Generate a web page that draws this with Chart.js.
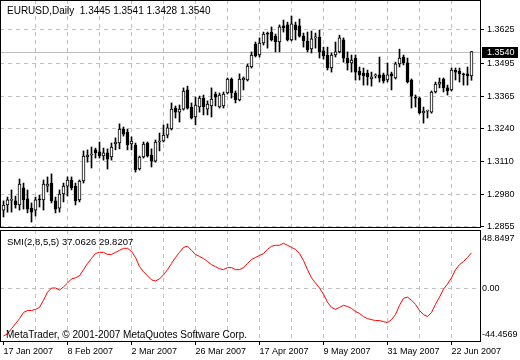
<!DOCTYPE html>
<html><head><meta charset="utf-8">
<script src="https://cdn.jsdelivr.net/npm/chart.js@4"></script>
<style>
html,body{margin:0;padding:0;background:#fff;overflow:hidden;}
#wrap{position:relative;width:520px;height:360px;}
canvas{position:absolute;left:0;top:0;}
.lbl{position:absolute;font-family:'Liberation Sans',Arial,sans-serif;color:#000;white-space:pre;line-height:12px;}
</style></head><body>
<div id="wrap">
<canvas id="smi" width="520" height="360" style="z-index:1"></canvas>
<canvas id="main" width="520" height="245" style="z-index:2"></canvas>
<div class="lbl" id="hdr" style="left:7px;top:5px;font-size:10px;z-index:3"></div>
<div class="lbl" id="smiLbl" style="left:7px;top:236px;font-size:9.5px;z-index:3"></div>
<div class="lbl" id="copy" style="left:6px;top:329px;font-size:10px;z-index:3">MetaTrader, © 2001-2007 MetaQuotes Software Corp.</div>
</div>
<script>
const SYMBOL = 'EURUSD';
const PERIOD = 'Daily';
const DATE_LABELS = ['17 Jan 2007','8 Feb 2007','2 Mar 2007','26 Mar 2007','17 Apr 2007','9 May 2007','31 May 2007','22 Jun 2007'];
const PRICE_TICKS = [1.2855,1.2980,1.3110,1.3240,1.3365,1.3495,1.3625];
const SMI_TICKS = [-44.4569, 0, 48.8497];
const SMI_NAME = 'SMI(2,8,5,5)';
const SMI_VALUES = [37.0626, 29.8207];

const OPEN = [1.2919,1.2939,1.2957,1.2955,1.2939,1.3006,1.2963,1.2927,1.2919,1.2963,
1.2959,1.3013,1.3025,1.2955,1.2927,1.2982,1.3013,1.3037,1.3013,1.2959,
1.3033,1.3127,1.3135,1.3155,1.3147,1.3131,1.3143,1.3127,1.3178,1.3182,
1.3237,1.3225,1.3178,1.3174,1.3080,1.3127,1.3182,1.3135,1.3111,1.3186,
1.3190,1.3213,1.3237,1.3319,1.3303,1.3315,1.3390,1.3323,1.3284,1.3323,
1.3358,1.3315,1.3327,1.3374,1.3323,1.3327,1.3378,1.3433,1.3378,1.3351,
1.3429,1.3429,1.3480,1.3570,1.3527,1.3574,1.3613,1.3617,1.3601,1.3578,
1.3641,1.3645,1.3586,1.3645,1.3641,1.3601,1.3582,1.3551,1.3594,1.3597,
1.3543,1.3527,1.3476,1.3527,1.3539,1.3586,1.3515,1.3496,1.3515,1.3464,
1.3456,1.3456,1.3433,1.3445,1.3449,1.3449,1.3429,1.3453,1.3437,1.3492,
1.3519,1.3496,1.3429,1.3362,1.3358,1.3300,1.3307,1.3303,1.3382,1.3413,
1.3433,1.3398,1.3390,1.3468,1.3464,1.3453,1.3453,1.3445];
const HIGH = [1.2955,1.2970,1.2998,1.2974,1.3041,1.3025,1.2998,1.2947,1.2970,1.2978,
1.3037,1.3049,1.3061,1.2970,1.2998,1.3025,1.3049,1.3049,1.3025,1.3037,
1.3151,1.3155,1.3166,1.3162,1.3186,1.3162,1.3159,1.3182,1.3202,1.3257,
1.3245,1.3237,1.3206,1.3182,1.3131,1.3186,1.3186,1.3159,1.3194,1.3221,
1.3253,1.3257,1.3339,1.3327,1.3331,1.3398,1.3405,1.3339,1.3362,1.3366,
1.3370,1.3347,1.3398,1.3382,1.3378,1.3382,1.3437,1.3437,1.3386,1.3453,
1.3441,1.3492,1.3539,1.3578,1.3594,1.3617,1.3617,1.3637,1.3609,1.3645,
1.3664,1.3656,1.3680,1.3656,1.3668,1.3613,1.3617,1.3621,1.3613,1.3625,
1.3558,1.3558,1.3535,1.3578,1.3605,1.3594,1.3539,1.3527,1.3527,1.3480,
1.3476,1.3468,1.3460,1.3453,1.3519,1.3456,1.3496,1.3460,1.3499,1.3550,
1.3527,1.3515,1.3433,1.3370,1.3362,1.3323,1.3311,1.3386,1.3421,1.3437,
1.3437,1.3409,1.3476,1.3476,1.3476,1.3456,1.3480,1.3541];
const LOW = [1.2892,1.2911,1.2911,1.2927,1.2919,1.2923,1.2908,1.2872,1.2896,1.2931,
1.2919,1.2990,1.2947,1.2908,1.2911,1.2951,1.2974,1.2998,1.2939,1.2951,
1.3025,1.3107,1.3084,1.3123,1.3123,1.3115,1.3080,1.3115,1.3155,1.3159,
1.3209,1.3155,1.3155,1.3068,1.3076,1.3123,1.3127,1.3088,1.3107,1.3151,
1.3186,1.3202,1.3233,1.3280,1.3264,1.3311,1.3315,1.3276,1.3253,1.3303,
1.3292,1.3292,1.3284,1.3327,1.3319,1.3319,1.3374,1.3358,1.3339,1.3347,
1.3390,1.3425,1.3476,1.3519,1.3519,1.3566,1.3554,1.3582,1.3539,1.3539,
1.3617,1.3582,1.3582,1.3586,1.3597,1.3558,1.3539,1.3535,1.3554,1.3515,
1.3511,1.3468,1.3460,1.3519,1.3535,1.3499,1.3468,1.3460,1.3429,1.3429,
1.3409,1.3409,1.3405,1.3437,1.3421,1.3417,1.3421,1.3390,1.3433,1.3480,
1.3488,1.3417,1.3319,1.3323,1.3296,1.3260,1.3280,1.3299,1.3378,1.3398,
1.3382,1.3370,1.3386,1.3429,1.3421,1.3409,1.3409,1.3428];
const CLOSE = [1.2939,1.2959,1.2961,1.2939,1.3021,1.2959,1.2923,1.2911,1.2959,1.2959,
1.3021,1.3021,1.2955,1.2923,1.2982,1.3013,1.3037,1.3006,1.2955,1.3033,
1.3131,1.3135,1.3139,1.3143,1.3131,1.3143,1.3119,1.3166,1.3186,1.3237,
1.3217,1.3174,1.3190,1.3076,1.3127,1.3178,1.3131,1.3111,1.3186,1.3190,
1.3213,1.3241,1.3315,1.3303,1.3315,1.3386,1.3319,1.3280,1.3331,1.3358,
1.3323,1.3335,1.3354,1.3362,1.3370,1.3374,1.3433,1.3378,1.3351,1.3433,
1.3437,1.3484,1.3527,1.3523,1.3574,1.3609,1.3609,1.3586,1.3578,1.3637,
1.3633,1.3586,1.3649,1.3625,1.3601,1.3582,1.3547,1.3590,1.3597,1.3539,
1.3523,1.3476,1.3527,1.3539,1.3594,1.3515,1.3496,1.3507,1.3460,1.3449,
1.3445,1.3441,1.3441,1.3447,1.3437,1.3425,1.3449,1.3445,1.3492,1.3515,
1.3496,1.3421,1.3366,1.3358,1.3300,1.3307,1.3309,1.3382,1.3413,1.3421,
1.3398,1.3386,1.3468,1.3460,1.3453,1.3449,1.3445,1.3540];
const SMI = [-39.4,-37.7,-33.4,-29.2,-25.0,-19.9,-18.2,-18.2,-17.3,-15.6,
-9.7,-2.9,0.5,0.5,-1.2,1.4,4.7,8.1,9.0,10.7,
15.8,20.9,25.1,29.3,30.2,30.2,28.5,28.5,30.2,31.9,
33.6,33.6,31.0,26.0,18.3,14.1,10.7,7.3,6.4,8.1,
11.5,15.8,20.9,26.0,30.2,34.4,35.3,31.9,28.5,26.8,
25.1,22.6,20.0,18.3,16.6,15.8,17.5,17.5,15.8,15.8,
17.5,20.9,24.3,26.0,27.6,29.3,32.7,35.3,36.1,36.1,
37.8,36.1,34.4,32.7,29.3,23.4,15.8,9.0,4.7,0.5,
-4.6,-11.4,-15.6,-17.3,-15.6,-13.9,-14.8,-16.5,-19.0,-20.7,
-23.3,-25.0,-25.8,-26.6,-26.6,-27.5,-28.3,-25.8,-21.6,-13.9,
-8.0,-7.1,-9.7,-13.1,-18.2,-21.6,-23.3,-19.9,-13.1,-7.1,
-0.4,3.9,9.0,15.8,20.0,22.6,26.0,29.8207];

// axis ranges
const PRICE_MIN = 1.28488, PRICE_MAX = 1.37426;
const X_MIN = -0.875, X_MAX = 119.375;
const GRID_STEP = 8, LABEL_STEP = 16;

const N = CLOSE.length;
const idx = CLOSE.map((_, i) => i);
const GRID_COLOR = '#c0c0c0';
const DASH = [4, 4];
const NONE = 'rgba(0,0,0,0)';
const FONT = "'Liberation Sans', Arial, sans-serif";
Chart.defaults.font.family = FONT;
Chart.defaults.font.size = 9;
Chart.defaults.color = '#000';

const last = N - 1;
document.getElementById('hdr').textContent =
  SYMBOL + ',' + PERIOD + '  ' + [OPEN[last], HIGH[last], LOW[last], CLOSE[last]].map(v => v.toFixed(4)).join(' ');
document.getElementById('smiLbl').textContent =
  SMI_NAME + ' ' + SMI_VALUES.map(v => v.toFixed(4)).join(' ');

const gridBars = [];
for (let b = 0; b < N; b += GRID_STEP) gridBars.push(b);

function xScale(showLabels) {
  return {
    type: 'linear', min: X_MIN, max: X_MAX, offset: false,
    afterBuildTicks: s => { s.ticks = gridBars.map(v => ({ value: v })); },
    afterFit: s => { s.height = showLabels ? 18 : 0; s.paddingLeft = 0; s.paddingRight = 0; },
    grid: {
      display: true, drawOnChartArea: true, offset: false, lineWidth: 1,
      color: c => (c.tick && c.tick.value > 0) ? GRID_COLOR : NONE,
      drawTicks: showLabels, tickLength: 3, tickBorderDash: [],
      tickColor: c => (c.tick && c.tick.value % LABEL_STEP === 0) ? '#000' : NONE
    },
    border: { display: false, dash: DASH },
    ticks: {
      display: showLabels, autoSkip: false, maxRotation: 0, minRotation: 0,
      align: 'start', padding: 1,
      callback: v => (v % LABEL_STEP === 0) ? DATE_LABELS[v / LABEL_STEP] : ''
    }
  };
}

const framePlugin = {
  id: 'frame',
  afterDatasetsDraw(chart) {
    const a = chart.chartArea, ctx = chart.ctx;
    ctx.save();
    ctx.strokeStyle = '#000'; ctx.lineWidth = 1; ctx.setLineDash([]);
    ctx.strokeRect(a.left + 0.5, a.top + 0.5, a.right - a.left - 1, a.bottom - a.top - 1);
    ctx.restore();
  }
};

const pricePlugin = {
  id: 'curPrice',
  beforeDatasetsDraw(chart) {
    const a = chart.chartArea, ctx = chart.ctx;
    const y = Math.round(chart.scales.y.getPixelForValue(CLOSE[last])) + 0.5;
    ctx.save();
    ctx.strokeStyle = GRID_COLOR; ctx.lineWidth = 1; ctx.setLineDash([]);
    ctx.beginPath(); ctx.moveTo(a.left, y); ctx.lineTo(a.right, y); ctx.stroke();
    ctx.restore();
  },
  afterDraw(chart) {
    const a = chart.chartArea, ctx = chart.ctx;
    const y = Math.round(chart.scales.y.getPixelForValue(CLOSE[last]));
    ctx.save();
    ctx.fillStyle = '#000';
    ctx.fillRect(a.right + 1, y - 5, 36, 11);
    ctx.fillStyle = '#fff';
    ctx.font = '9px ' + FONT;
    ctx.textBaseline = 'middle';
    ctx.textAlign = 'left';
    ctx.fillText(CLOSE[last].toFixed(4), a.right + 6, y + 0.5);
    ctx.restore();
  }
};

new Chart(document.getElementById('main').getContext('2d'), {
  type: 'bar',
  data: {
    datasets: [
      {
        label: 'body',
        data: idx.map(i => ({ x: i, y: [OPEN[i], CLOSE[i]] })),
        barThickness: 3, minBarLength: 1, grouped: false,
        backgroundColor: idx.map(i => CLOSE[i] >= OPEN[i] ? '#ffffff' : '#000000'),
        borderColor: '#000', borderWidth: 1, borderSkipped: false
      },
      {
        label: 'wick',
        data: idx.map(i => ({ x: i, y: [LOW[i], HIGH[i]] })),
        barThickness: 1, grouped: false, minBarLength: 1,
        backgroundColor: '#000', borderWidth: 0
      }
    ]
  },
  options: {
    responsive: false, animation: false, events: [], devicePixelRatio: 1,
    layout: { padding: { top: 0, left: 0, right: 0, bottom: 17 } },
    plugins: { legend: { display: false }, tooltip: { enabled: false } },
    scales: {
      x: xScale(false),
      y: {
        type: 'linear', position: 'right', min: PRICE_MIN, max: PRICE_MAX, beginAtZero: false,
        afterBuildTicks: s => { s.ticks = PRICE_TICKS.map(v => ({ value: v })); },
        afterFit: s => { s.width = 39; s.paddingTop = 0; s.paddingBottom = 0; },
        grid: { color: GRID_COLOR, drawTicks: true, tickLength: 3, tickColor: '#000', tickBorderDash: [] },
        border: { display: false, dash: DASH },
        ticks: { padding: 3, callback: v => v.toFixed(4) }
      }
    }
  },
  plugins: [pricePlugin, framePlugin]
});

const smiMin = SMI_TICKS[0], smiMax = SMI_TICKS[SMI_TICKS.length - 1];
const smiRange = smiMax - smiMin;
new Chart(document.getElementById('smi').getContext('2d'), {
  type: 'line',
  data: {
    datasets: [{
      label: SMI_NAME,
      data: idx.map(i => ({ x: i, y: SMI[i] })),
      borderColor: '#ff0000', borderWidth: 1, pointRadius: 0, tension: 0, fill: false
    }]
  },
  options: {
    responsive: false, animation: false, events: [], devicePixelRatio: 1,
    layout: { padding: { top: 230, left: 0, right: 0, bottom: 0 } },
    plugins: { legend: { display: false }, tooltip: { enabled: false } },
    scales: {
      x: xScale(true),
      y: {
        type: 'linear', position: 'right', min: smiMin, max: smiMax,
        // edge labels sit just inside the pane, as in MetaTrader
        afterBuildTicks: s => {
          s.ticks = [{ value: smiMin + smiRange * 0.0625 }, { value: 0 }, { value: smiMax - smiRange * 0.075 }];
        },
        afterFit: s => { s.width = 39; s.paddingTop = 0; s.paddingBottom = 0; },
        grid: { color: c => (c.tick && c.tick.value === 0) ? GRID_COLOR : NONE, drawTicks: false },
        border: { display: false, dash: DASH },
        ticks: { padding: 1, callback: (v, i) => { const t = SMI_TICKS[i]; return t === 0 ? t.toFixed(2) : t.toFixed(4); } }
      }
    }
  },
  plugins: [framePlugin]
});
</script>
</body></html>
